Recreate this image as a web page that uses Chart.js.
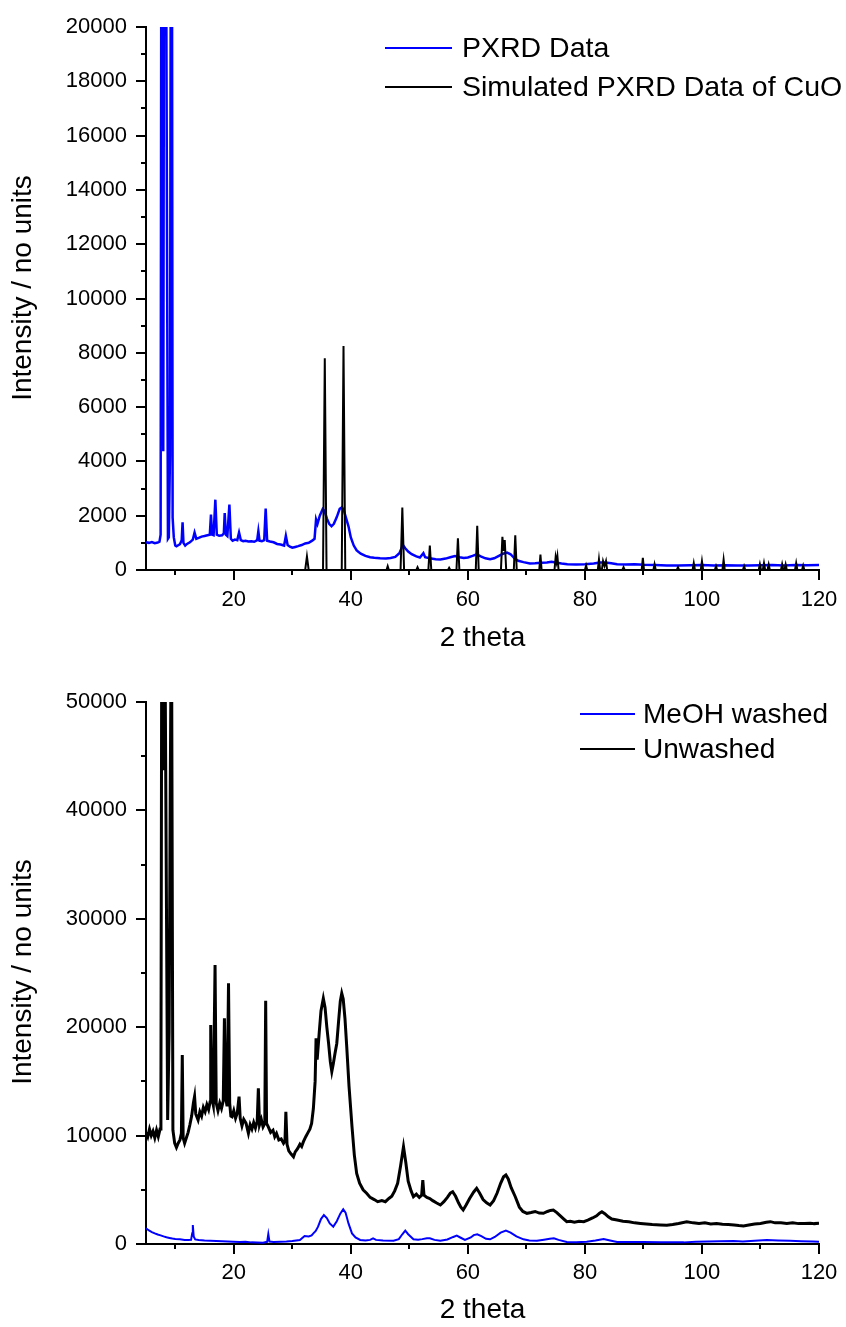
<!DOCTYPE html>
<html><head><meta charset="utf-8">
<script src="https://cdn.jsdelivr.net/npm/chart.js@4/dist/chart.umd.min.js"></script>
<style>
html,body{margin:0;padding:0;background:#fff;}
canvas{position:absolute;left:0;}
#c1{top:0;}
#c2{top:663px;}
</style></head><body>
<canvas id="c1" width="846" height="663" style="width:846px;height:663px"></canvas>
<canvas id="c2" width="846" height="664" style="width:846px;height:664px"></canvas>
<script>
// ---------- DATA ----------
const topLabels = ['PXRD Data', 'Simulated PXRD Data of CuO'];
const bottomLabels = ['MeOH washed', 'Unwashed'];
const xTitle = '2 theta';
const yTitle = 'Intensity / no units';

const pxrdX = [5.0,5.5,6.0,6.5,7.0,7.3,7.5,7.7,7.95,8.2,8.75,8.9,9.1,9.35,9.55,9.75,10.0,10.2,10.5,10.8,11.1,11.25,11.4,11.7,12.0,12.5,13.0,13.3,13.6,14.0,14.5,15.0,15.5,15.9,16.1,16.3,16.55,16.85,17.1,17.5,18.0,18.3,18.45,18.65,18.9,19.25,19.5,19.8,20.2,20.6,20.9,21.2,21.6,22.0,22.5,23.0,23.5,24.0,24.2,24.4,24.8,25.2,25.45,25.7,26.2,26.8,27.4,28.0,28.6,28.9,29.2,29.6,30.0,30.5,31.0,31.6,32.2,32.8,33.4,33.8,34.06,34.3,34.7,35.2,35.5,35.9,36.3,36.7,37.1,37.6,38.1,38.5,38.8,39.2,39.6,40.0,40.5,41.0,41.7,42.5,43.3,44.0,45.0,46.0,46.8,47.6,48.3,48.9,49.3,49.8,50.4,51.2,51.8,52.4,52.7,53.5,54.5,55.3,56.2,57.0,57.8,58.6,59.3,60.0,60.8,61.5,62.2,63.0,63.8,64.5,65.3,66.0,66.7,67.3,68.0,68.6,69.5,70.6,71.5,72.5,73.5,74.3,75.0,76.0,77.0,78.5,80.0,81.5,82.6,83.5,84.5,85.5,87.0,88.5,90.0,92.0,94.0,96.0,98.0,100.0,102.0,104.0,106.0,108.0,110.0,112.0,114.0,116.0,118.0,120.0];
const pxrdY = [1020,1000,1030,990,1010,1040,1300,40000,4370,40000,1150,1200,4250,40000,1930,1200,900,870,910,950,1100,1760,1000,900,960,1020,1120,1380,1150,1180,1230,1250,1280,1300,2040,1300,1280,2590,1300,1260,1280,1350,2100,1300,1250,2410,1150,1080,1120,1100,1380,1100,1060,1080,1050,1060,1040,1100,1430,1080,1060,1100,2260,1080,1050,1020,960,940,900,1260,920,860,820,850,880,920,980,1000,1080,1150,1860,1700,2000,2250,2180,1900,1700,1610,1700,1950,2250,2310,2200,1900,1610,1200,900,720,600,520,470,450,430,420,440,480,620,920,800,680,580,500,460,620,470,430,400,390,420,470,510,470,440,460,520,580,500,430,400,430,520,600,640,580,420,340,290,240,250,270,280,300,280,240,210,200,210,240,280,280,250,210,200,210,190,180,170,170,175,180,170,175,165,170,175,180,170,180,175,180];

const simX = [5,32.2,32.5,32.8,35.25,35.55,35.85,38.45,38.75,39.05,46.1,46.3,46.5,48.5,48.8,49.1,51.2,51.4,51.6,53.25,53.5,53.75,56.6,56.8,57.0,58.05,58.3,58.55,61.35,61.6,61.85,65.65,65.9,66.1,66.3,66.55,67.85,68.1,68.35,72.2,72.4,72.6,74.8,75.0,75.15,75.3,75.5,80.0,80.2,80.4,82.2,82.4,82.6,82.9,83.1,83.35,83.6,83.8,86.4,86.6,86.8,89.7,89.9,90.1,91.7,91.9,92.1,95.7,95.9,96.1,98.4,98.6,98.8,99.8,100.0,100.2,102.2,102.4,102.6,103.5,103.7,103.9,107.0,107.2,107.4,109.7,109.9,110.1,110.4,110.6,110.8,111.2,111.4,111.6,113.5,113.7,113.9,114.1,114.3,114.5,115.9,116.1,116.3,117.1,117.3,117.5,120];
const simY = [0,0,500,0,0,7800,0,0,8250,0,0,140,0,0,2300,0,0,100,0,0,900,0,0,80,0,0,1170,0,0,1630,0,0,1220,700,1100,0,0,1280,0,0,570,0,0,480,300,510,0,0,165,0,0,390,0,0,330,150,330,0,0,100,0,0,450,0,0,210,0,0,100,0,0,250,0,0,320,0,0,140,0,0,380,0,0,140,0,0,210,0,0,250,0,0,200,0,0,210,0,0,200,0,0,250,0,0,160,0,0];

const washedX = [5.0,5.5,6.0,6.5,7.0,7.5,8.0,8.5,9.0,9.5,10.0,10.8,11.6,12.2,12.7,12.9,13.0,13.15,13.4,14.0,15.0,16.0,17.0,18.0,19.0,19.9,21.0,22.0,23.0,24.0,25.0,25.7,25.9,26.1,26.8,28.0,29.0,30.0,31.3,32.1,32.8,33.3,33.6,34.0,34.4,34.9,35.4,35.9,36.4,37.0,37.6,38.2,38.7,39.1,39.6,40.2,40.8,41.6,42.5,43.3,43.8,44.3,45.5,47.3,48.2,48.8,49.3,49.8,50.7,51.5,52.2,53.0,53.5,54.3,55.3,56.5,57.5,58.1,58.7,59.5,60.5,61.0,61.6,62.3,63.1,63.8,64.6,65.6,66.5,67.3,68.3,69.5,70.5,71.8,73.0,74.0,74.7,75.5,76.9,78.5,80.3,81.8,83.2,84.3,85.5,87.0,90.0,93.0,96.9,99.0,101.0,103.0,105.4,107.0,109.0,111.1,113.0,115.0,117.0,119.0,120.0];
const washedY = [1450,1250,1100,980,880,800,700,620,560,500,460,430,370,360,380,1000,1750,700,420,380,330,300,270,250,230,210,190,200,150,130,120,200,920,220,180,200,220,270,370,740,700,800,980,1200,1600,2300,2680,2400,1900,1600,2100,2800,3200,2900,1900,980,600,370,330,380,520,380,320,300,450,900,1230,900,430,400,450,540,520,380,310,420,650,770,600,370,600,820,890,720,480,430,650,1050,1230,1050,700,430,330,310,400,480,520,380,185,170,210,320,460,330,185,180,190,170,150,200,240,260,280,240,300,370,330,300,260,220,210];

const unwashedX = [5.0,5.3,5.6,5.9,6.2,6.5,6.8,7.1,7.4,7.55,7.7,7.95,8.2,8.7,8.95,9.15,9.35,9.6,9.9,10.2,10.5,10.8,11.05,11.2,11.35,11.6,11.9,12.2,12.5,12.8,13.1,13.3,13.5,13.9,14.2,14.5,14.8,15.1,15.4,15.7,15.95,16.06,16.2,16.5,16.8,17.0,17.3,17.6,17.9,18.2,18.4,18.6,18.85,19.1,19.3,19.5,19.7,20.0,20.3,20.6,20.9,21.1,21.4,21.7,22.1,22.5,22.8,23.1,23.4,23.7,24.0,24.2,24.4,24.7,25.0,25.3,25.45,25.6,25.9,26.3,26.7,27.0,27.3,27.7,28.1,28.5,28.75,28.9,29.1,29.4,29.8,30.2,30.5,30.9,31.3,31.6,31.9,32.3,32.7,33.0,33.3,33.6,33.9,34.06,34.25,34.6,34.9,35.3,35.6,35.9,36.2,36.5,36.75,37.0,37.3,37.6,37.9,38.2,38.45,38.7,39.0,39.3,39.7,40.2,40.6,41.0,41.5,42.1,42.7,43.3,44.0,44.6,45.3,45.9,46.5,47.0,47.5,48.0,48.5,49.0,49.4,49.8,50.3,50.7,51.2,51.7,52.1,52.3,52.5,53.0,53.5,54.0,54.6,55.3,55.9,56.5,57.0,57.4,57.9,58.4,58.8,59.2,59.7,60.3,61.0,61.5,62.0,62.6,63.2,63.8,64.4,65.0,65.6,66.1,66.5,66.9,67.4,68.1,68.8,69.4,70.1,70.8,71.5,72.2,72.9,73.6,74.1,74.6,75.2,75.8,76.4,76.9,77.5,78.2,79.0,79.8,80.5,81.3,82.0,82.5,82.9,83.4,84.0,84.6,85.5,86.5,87.5,88.5,89.5,90.5,91.5,92.9,94.0,95.0,96.0,97.4,98.5,99.5,100.5,101.5,102.5,103.5,104.5,105.5,106.3,107.1,108.0,109.0,110.0,111.0,111.7,112.5,113.5,114.5,115.5,116.5,117.5,118.5,119.2,120.0];
const unwashedY = [10300,9900,10600,10000,10400,9800,10500,9900,10600,14000,60000,43700,60000,11440,19460,42500,60000,10500,9300,8900,9300,9600,10200,17430,9800,9300,9800,10300,11000,11800,13000,13600,12000,11440,12200,11800,12600,12200,12850,12400,13100,20200,13590,12800,25740,13000,12300,13000,12500,13200,20820,13590,12700,24050,13000,11800,11740,12300,11600,12100,13590,11600,10900,11500,11130,10210,11000,10600,11200,10700,11300,14360,11000,11500,10800,11130,22450,11130,10800,10300,10500,9900,10200,9600,9700,9290,9500,12200,9200,8600,8300,8050,8500,8800,9200,9000,9440,9900,10300,10600,11130,12500,15000,18980,17000,19500,21500,22660,21800,20000,18500,16800,15900,16600,17600,18500,20500,22400,23130,22600,20800,18200,14500,10820,8200,6520,5600,5000,4680,4300,4100,3900,4000,3900,4200,4400,4900,5600,7200,8980,7500,5800,4900,4360,4600,4300,4500,5900,4500,4300,4200,4000,3800,3600,3900,4300,4700,4820,4400,3800,3400,3140,3600,4200,4800,5140,4700,4100,3800,3600,4000,4700,5600,6200,6370,6000,5200,4360,3400,3000,2830,2900,3000,2850,2830,3000,3100,3140,2900,2600,2300,2060,2100,2000,2100,2060,2200,2400,2600,2850,2980,2800,2500,2300,2210,2100,2050,1950,1900,1850,1800,1750,1720,1800,1900,2060,1950,1900,1950,1850,1880,1820,1800,1750,1700,1660,1750,1850,1900,2000,2060,1950,1950,1900,1950,1880,1900,1920,1880,1910];

// Axis ticks
const xMajorTicks = [20,40,60,80,100,120];
const xMinorTicks = [10,30,50,70,90,110];
const topYMajorTicks = [0,2000,4000,6000,8000,10000,12000,14000,16000,18000,20000];
const topYMinorTicks = [1000,3000,5000,7000,9000,11000,13000,15000,17000,19000];
const botYMajorTicks = [0,10000,20000,30000,40000,50000];
const botYMinorTicks = [5000,15000,25000,35000,45000];

// ---------- CHARTS ----------
const FONT = "'Liberation Sans', Arial, Helvetica, sans-serif";
Chart.defaults.font.family = FONT;
Chart.defaults.color = '#000';

function pts(xs, ys){ return xs.map((x,i)=>({x:x, y:ys[i]})); }

const decoPlugin = {
  id: 'deco',
  afterDraw(chart, args, o) {
    const ctx = chart.ctx, a = chart.chartArea;
    const xs = chart.scales.x, ys = chart.scales.y;
    ctx.save();
    ctx.strokeStyle = '#000'; ctx.lineWidth = 2;
    ctx.beginPath();
    o.xMajor.forEach(v => { const p = Math.round(xs.getPixelForValue(v)); ctx.moveTo(p, a.bottom); ctx.lineTo(p, a.bottom + 10); });
    o.xMinor.forEach(v => { const p = Math.round(xs.getPixelForValue(v)); ctx.moveTo(p, a.bottom); ctx.lineTo(p, a.bottom + 5); });
    o.yMajor.forEach(v => { const p = Math.round(ys.getPixelForValue(v)); ctx.moveTo(a.left, p); ctx.lineTo(a.left - 10, p); });
    o.yMinor.forEach(v => { const p = Math.round(ys.getPixelForValue(v)); ctx.moveTo(a.left, p); ctx.lineTo(a.left - 5, p); });
    ctx.stroke();
    // y axis title
    ctx.fillStyle = '#000';
    ctx.font = o.titleFont + 'px ' + FONT;
    ctx.save();
    ctx.translate(o.yTitleX, o.yTitleY);
    ctx.rotate(-Math.PI / 2);
    ctx.textAlign = 'center'; ctx.textBaseline = 'middle';
    ctx.fillText(yTitle, 0, 0);
    ctx.restore();
    // legend
    ctx.font = o.legendFont + 'px ' + FONT;
    ctx.textBaseline = 'middle';
    ctx.textAlign = 'left';
    chart.data.datasets.forEach((ds, i) => {
      const y = o.legendY[i];
      ctx.strokeStyle = ds.borderColor; ctx.lineWidth = 2;
      ctx.beginPath(); ctx.moveTo(o.legendX0, y); ctx.lineTo(o.legendX1, y); ctx.stroke();
      ctx.fillStyle = '#000';
      ctx.fillText(ds.label, o.legendTextX, y + 1);
    });
    ctx.restore();
  }
};

function makeChart(id, datasets, yMax, yMajor, padTop, xAxisH, xTickPad, xTitlePadB, deco) {
  return new Chart(document.getElementById(id), {
    type: 'line',
    data: { datasets: datasets },
    options: {
      responsive: false, animation: false, devicePixelRatio: 1,
      layout: { padding: { left: 0, top: padTop, right: 27, bottom: 0 } },
      plugins: { legend: { display: false }, tooltip: { enabled: false }, deco: deco },
      elements: { point: { radius: 0 }, line: { tension: 0 } },
      scales: {
        x: {
          type: 'linear', min: 5, max: 120,
          afterBuildTicks: s => { s.ticks = xMajorTicks.map(v => ({ value: v })); },
          afterFit: s => { s.height = xAxisH; },
          grid: { display: false, drawTicks: true, tickLength: xTickPad },
          border: { display: true, color: '#000', width: 2 },
          ticks: { autoSkip: false, maxRotation: 0, padding: 0, font: { size: 22 }, color: '#000' },
          title: { display: true, text: xTitle, font: { size: 28 }, color: '#000', padding: { top: 0, bottom: xTitlePadB } }
        },
        y: {
          type: 'linear', min: 0, max: yMax,
          afterBuildTicks: s => { s.ticks = yMajor.map(v => ({ value: v })); },
          afterFit: s => { s.width = 146; },
          grid: { display: false, drawTicks: true, tickLength: 19 },
          border: { display: true, color: '#000', width: 2 },
          ticks: { autoSkip: false, padding: 0, font: { size: 22 }, color: '#000', callback: v => String(v) },
          title: { display: false }
        }
      }
    },
    plugins: [decoPlugin]
  });
}

makeChart('c1', [
  { label: topLabels[0], data: pts(pxrdX, pxrdY), borderColor: '#0000ff', borderWidth: 2.5, order: 1 },
  { label: topLabels[1], data: pts(simX, simY), borderColor: '#000000', borderWidth: 2, order: 0 }
], 20000, topYMajorTicks, 27, 93, 17, 8, {
  xMajor: xMajorTicks, xMinor: xMinorTicks, yMajor: topYMajorTicks, yMinor: topYMinorTicks,
  titleFont: 28, yTitleX: 23, yTitleY: 288,
  legendFont: 28.5, legendX0: 385, legendX1: 452, legendTextX: 462, legendY: [48, 87]
});

makeChart('c2', [
  { label: bottomLabels[0], data: pts(washedX, washedY), borderColor: '#0000ff', borderWidth: 2, order: 0 },
  { label: bottomLabels[1], data: pts(unwashedX, unwashedY), borderColor: '#000000', borderWidth: 3, order: 1 }
], 50000, botYMajorTicks, 39, 83, 16, 0, {
  xMajor: xMajorTicks, xMinor: xMinorTicks, yMajor: botYMajorTicks, yMinor: botYMinorTicks,
  titleFont: 28, yTitleX: 23, yTitleY: 309,
  legendFont: 28, legendX0: 580, legendX1: 635, legendTextX: 643, legendY: [51, 86]
});
</script>
</body></html>
